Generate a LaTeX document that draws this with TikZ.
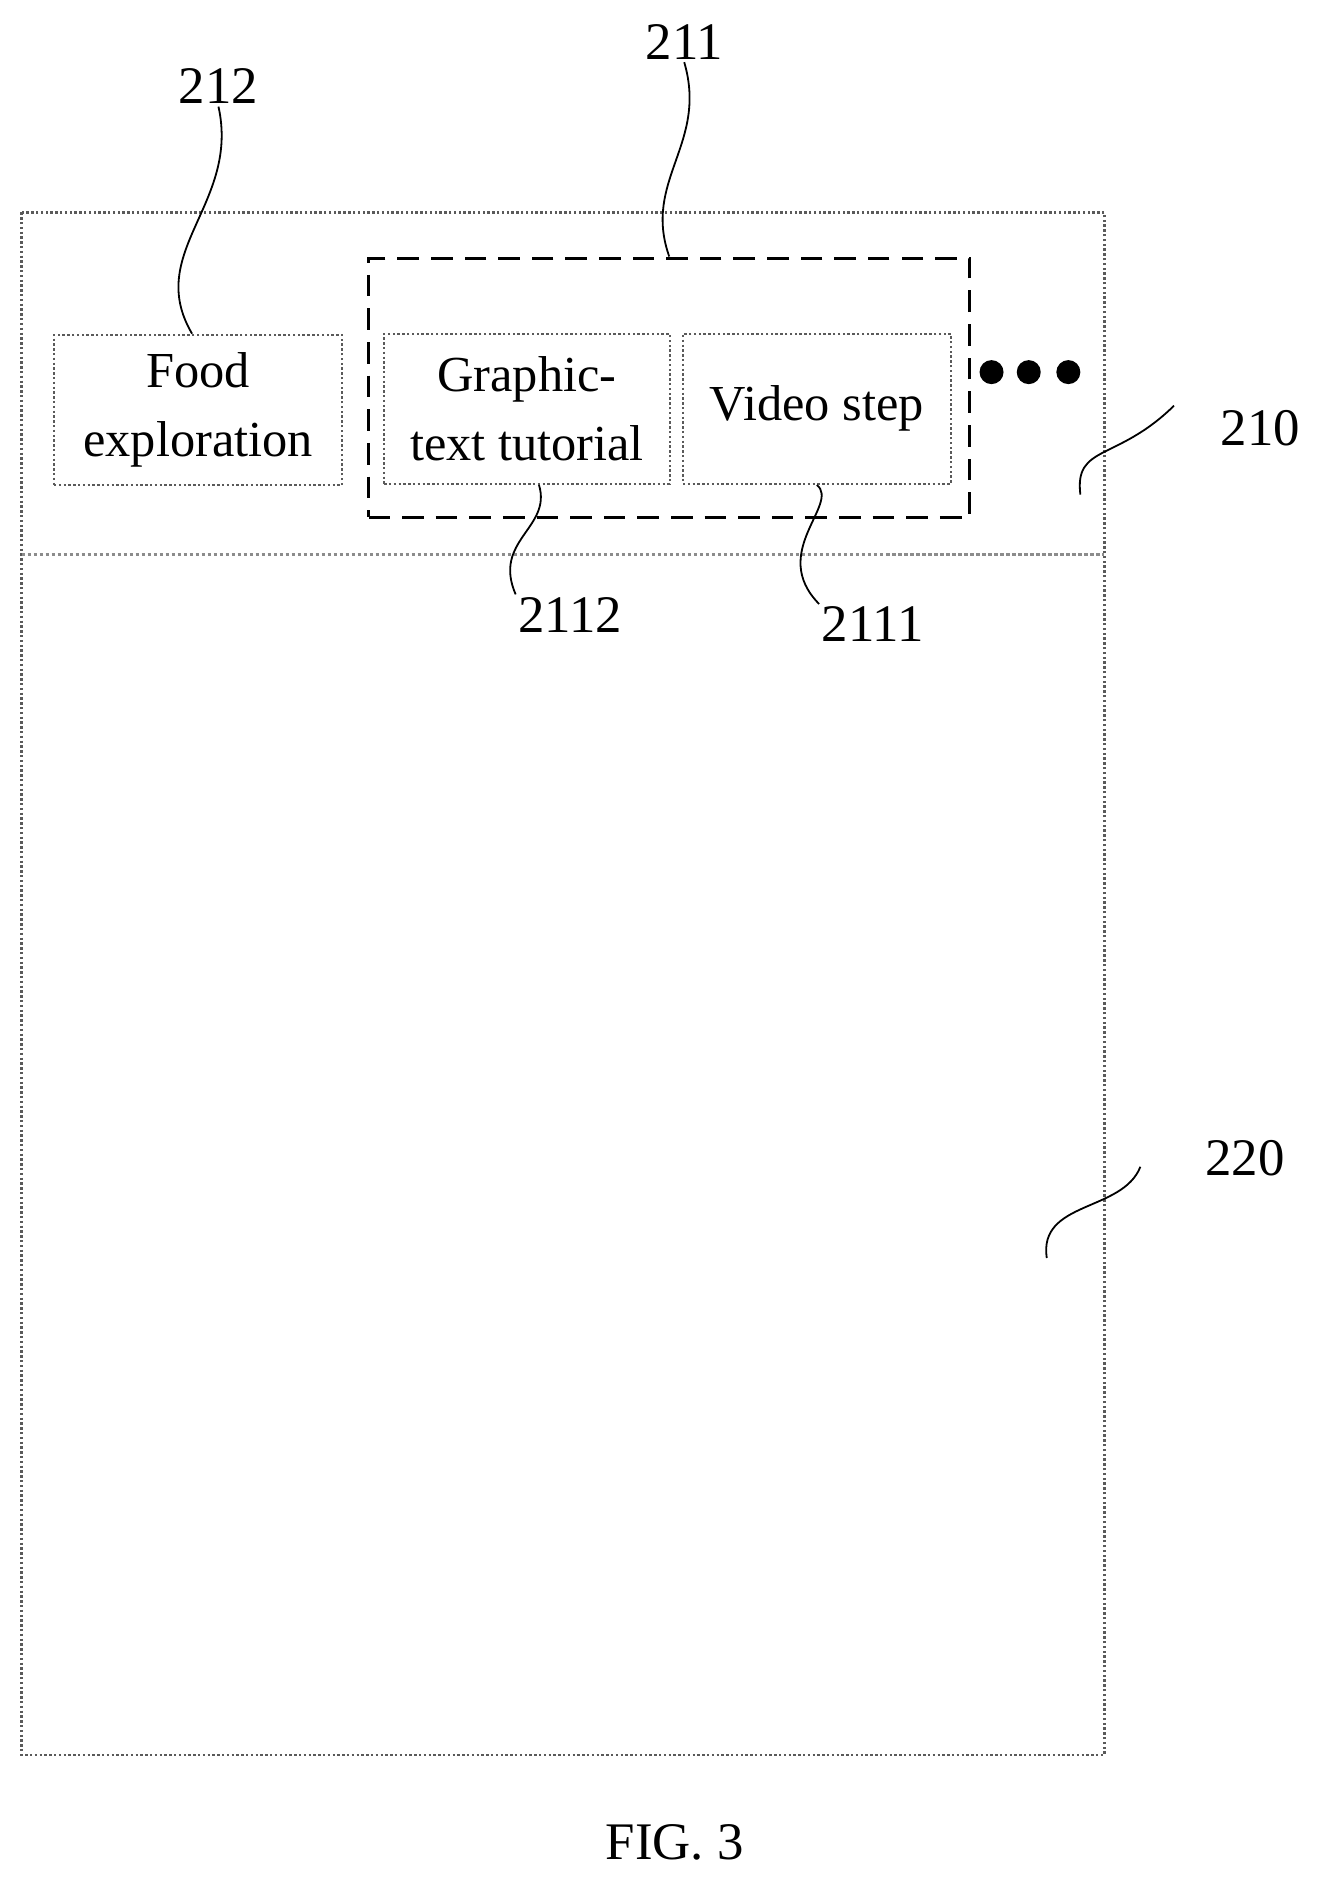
\documentclass[tikz,border=0pt]{standalone}
\usepackage{fontspec}
\setmainfont{Liberation Serif}
\tikzset{every picture/.style={line width=0.75pt}}
\tikzset{tabbox/.style={draw={rgb, 255:red, 90; green, 90; blue, 90}, densely dotted, line width=1pt, minimum width=#1, minimum height=62.5pt, inner sep=0pt, align=center, font=\fontsize{21}{29}\selectfont},
  reflabel/.style={inner sep=0.75pt, font=\fontsize{22}{26}\selectfont}}

\begin{document}
\begin{tikzpicture}[x=0.5pt,y=0.5pt,yscale=-1]
\useasboundingbox (0,0) rectangle (1105,1572);

%Shape: Rectangle [outer screen]
\draw [draw={rgb, 255:red, 90; green, 90; blue, 90}, densely dotted, line width=1pt] (18,177) rectangle (920,1462);
%Straight Lines [divider]
\draw [draw={rgb, 255:red, 140; green, 140; blue, 140}, densely dotted, line width=1.5pt] (18,462) -- (920,462);
%Shape: Rectangle [dashed group]
\node (grp) [draw, dash pattern=on 9pt off 5pt, line width=1.3pt, minimum width=250.5pt, minimum height=108pt, inner sep=0pt] at (557.5,323) {};

% Text Node
\node (food) [tabbox=120pt] at (165,341.5) {Food\\exploration};
% Text Node
\node (graph) [tabbox=119pt] at (439,340.5) {Graphic-\\text tutorial};
% Text Node
\node (video) [tabbox=111.5pt] at (680.5,340.5) {Video step};

%Shape: Circle
\foreach \cx in {826,857,890}
  \fill (\cx,310) circle (5pt);

% Text Node
\node (l212) [reflabel] at (182,72) {212};
\node (l211) [reflabel] at (570,35) {211};
\node (l210) [reflabel] at (1050,357) {210};
\node (l2112) [reflabel] at (475,512) {2112};
\node (l2111) [reflabel] at (727,520) {2111};
\node (l220) [reflabel] at (1037,965) {220};
\node (fig) [reflabel] at (562,1535) {FIG. 3};

%Curve Lines
\draw (food.north) ++(-5,0) .. controls (120,210) and (200,170) .. (l212.south);
\draw (grp.north) .. controls (535,150) and (590,120) .. (l211.south);
\draw (graph.south) ++(10,0) .. controls (460,440) and (410,450) .. (l2112.north west);
\draw (video.south) .. controls (700,420) and (640,460) .. (l2111.north west);
\draw (900,412) .. controls (895,370) and (930,385) .. (978,338);
\draw (872,1048) .. controls (865,1000) and (935,1010) .. (950,972);

\end{tikzpicture}
\end{document}
